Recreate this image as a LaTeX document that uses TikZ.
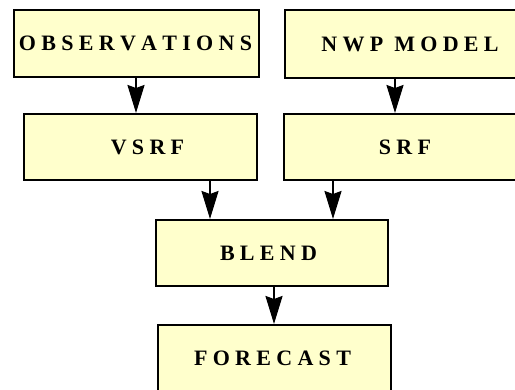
\documentclass[tikz,border=0pt]{standalone}
\usepackage{fontspec}
\newfontfamily\boxfont{Liberation Serif}
\usetikzlibrary{arrows.meta}
\definecolor{boxfill}{HTML}{FFFFCC}
\makeatletter
\def\spaceout#1{#1\futurelet\so@next\so@step}
\def\so@step{\ifx\so@next\relax\expandafter\@gobble\else\kern5.3pt\expandafter\spaceout\fi}
\makeatother
\begin{document}
\begin{tikzpicture}[x=1pt,y=-1pt,
  boxstyle/.style={draw=black, line width=2pt, fill=boxfill, inner sep=0pt,
    font=\boxfont\bfseries\fontsize{22}{26}\selectfont},
  arr/.style={line width=2pt, -{Stealth[length=28pt,width=17pt,inset=3pt]}}]
\useasboundingbox (0,0) rectangle (515,389);
\clip (0,0) rectangle (515,389);
\node[boxstyle, minimum width=245pt, minimum height=67pt] (obs) at (136.5,43.5) {\hspace*{-2pt}\spaceout OBSERVATIONS\relax};
\node[boxstyle, minimum width=252pt, minimum height=68pt] (nwp) at (411,44) {\hspace*{-2pt}\spaceout NWP\relax\kern11pt\spaceout MODEL\relax};
\node[boxstyle, minimum width=233pt, minimum height=66pt] (vsrf) at (140.5,147) {\hspace*{14pt}\spaceout VSRF\relax};
\node[boxstyle, minimum width=242pt, minimum height=66pt] (srf) at (405,147) {\spaceout SRF\relax};
\node[boxstyle, minimum width=232pt, minimum height=66pt] (blend) at (272,253) {\hspace*{-7pt}\spaceout BLEND\relax};
\node[boxstyle, minimum width=233pt, minimum height=66pt] (fc) at (274.5,358) {\hspace*{-4pt}\spaceout FORECAST\relax};
\coordinate (xa) at (136,0);
\coordinate (xb) at (395,0);
\coordinate (xc) at (210,0);
\coordinate (xd) at (333,0);
\coordinate (xe) at (274,0);
\draw[arr] (obs.south -| xa) -- (vsrf.north -| xa);
\draw[arr] (nwp.south -| xb) -- (srf.north -| xb);
\draw[arr] (vsrf.south -| xc) -- (blend.north -| xc);
\draw[arr] (srf.south -| xd) -- (blend.north -| xd);
\draw[arr] (blend.south -| xe) -- (fc.north -| xe);
\end{tikzpicture}
\end{document}
